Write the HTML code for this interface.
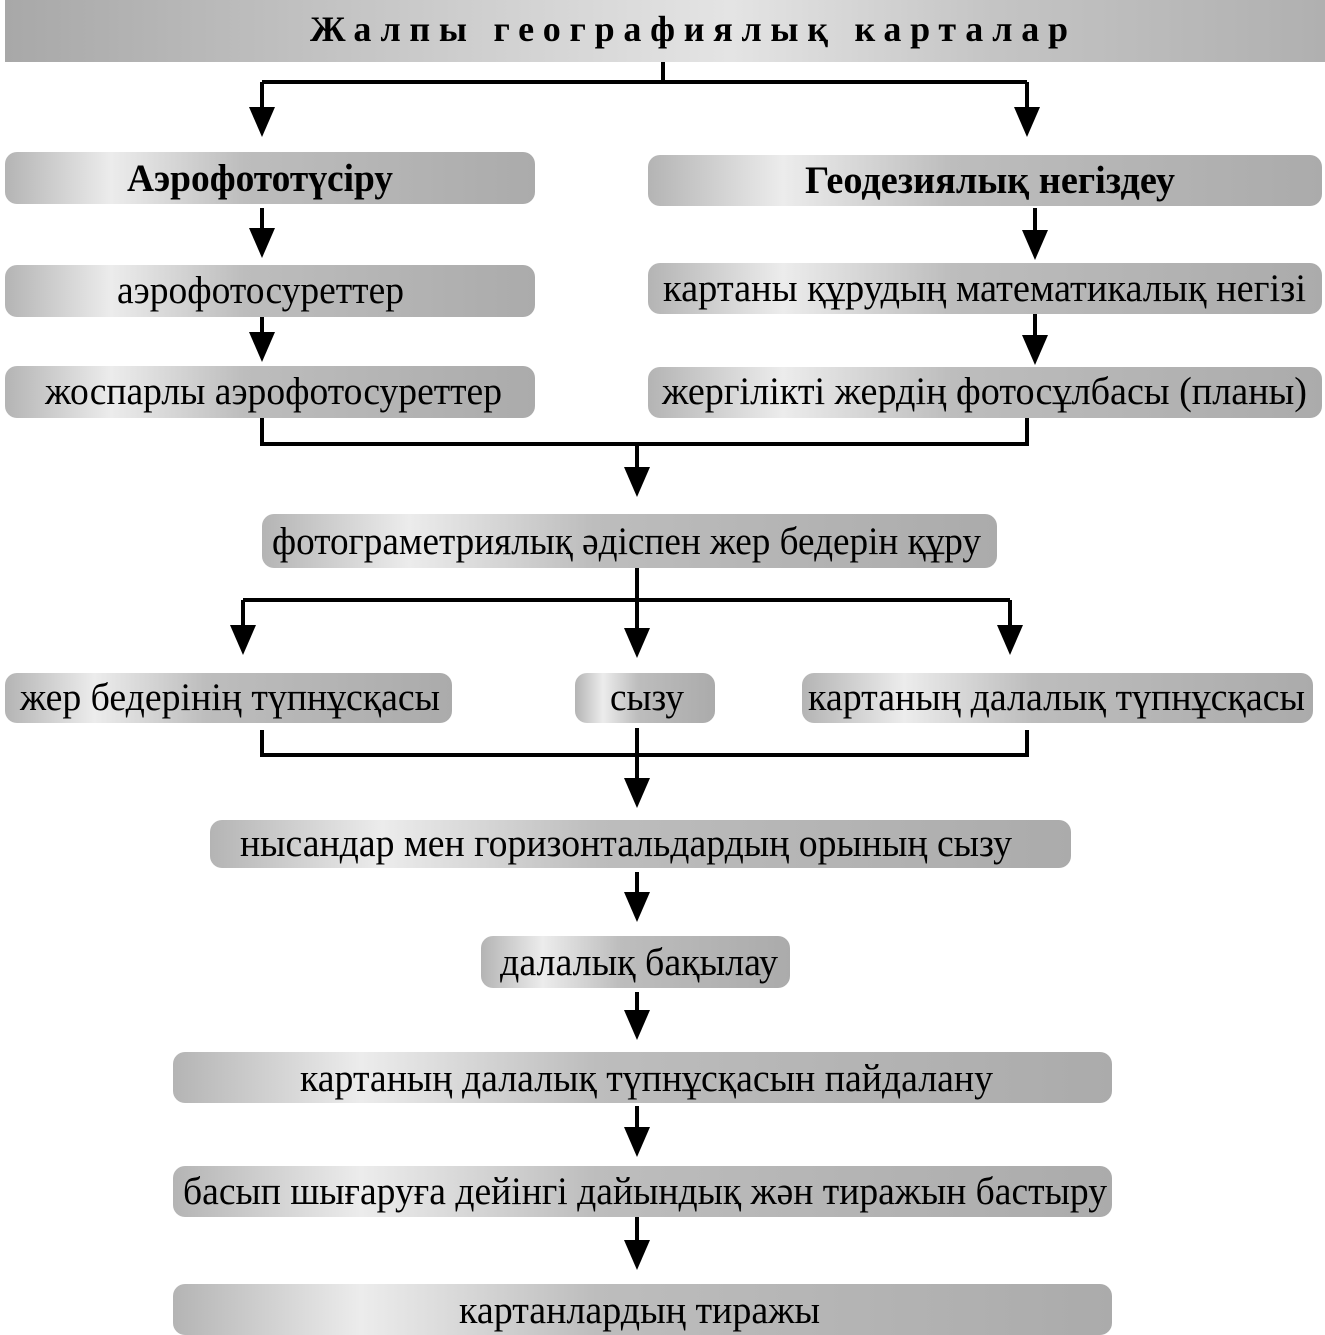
<!DOCTYPE html>
<html><head><meta charset="utf-8"><style>html,body{margin:0;padding:0;background:#fff}svg{display:block}</style></head>
<body>
<svg width="1325" height="1335" viewBox="0 0 1325 1335" xmlns="http://www.w3.org/2000/svg" font-family="Liberation Serif, serif">
<defs>
<linearGradient id="g" x1="0" y1="0" x2="1" y2="0">
<stop offset="0" stop-color="#b4b4b4"/>
<stop offset="0.2" stop-color="#ececec"/>
<stop offset="0.45" stop-color="#bdbdbd"/>
<stop offset="1" stop-color="#ababab"/>
</linearGradient>
<linearGradient id="gt" x1="0" y1="0" x2="1" y2="0">
<stop offset="0" stop-color="#a8a8a8"/>
<stop offset="0.55" stop-color="#e4e4e4"/>
<stop offset="0.75" stop-color="#c4c4c4"/>
<stop offset="1" stop-color="#b0b0b0"/>
</linearGradient>
</defs>
<rect x="5" y="0" width="1320" height="62" fill="url(#gt)"/>
<text x="310" y="41" font-size="36" font-weight="bold" textLength="758" lengthAdjust="spacing">Жалпы географиялық карталар</text>

<g stroke="#000" stroke-width="4" fill="none">
<polyline points="663,62 663,82"/>
<polyline points="262,82 1027,82"/>
<line x1="262" y1="82" x2="262" y2="107"/>
<line x1="1027" y1="82" x2="1027" y2="107"/>
<line x1="262" y1="208" x2="262" y2="230"/>
<line x1="1035" y1="208" x2="1035" y2="232"/>
<line x1="262" y1="317" x2="262" y2="334"/>
<line x1="1035" y1="314" x2="1035" y2="337"/>
<polyline points="262,418 262,444 1027,444 1027,418"/>
<line x1="637" y1="444" x2="637" y2="467"/>
<line x1="637" y1="568" x2="637" y2="600"/>
<line x1="243" y1="600" x2="1010" y2="600"/>
<line x1="243" y1="600" x2="243" y2="625"/>
<line x1="637" y1="600" x2="637" y2="628"/>
<line x1="1010" y1="600" x2="1010" y2="625"/>
<polyline points="262,730 262,755 1027,755 1027,730"/>
<line x1="637" y1="728" x2="637" y2="778"/>
<line x1="637" y1="872" x2="637" y2="892"/>
<line x1="637" y1="992" x2="637" y2="1010"/>
<line x1="637" y1="1106" x2="637" y2="1127"/>
<line x1="637" y1="1217" x2="637" y2="1240"/>
</g>
<g fill="#000">
<path d="M249,107 L275,107 L262,137 Z"/>
<path d="M1014,107 L1040,107 L1027,137 Z"/>
<path d="M249,228 L275,228 L262,258 Z"/>
<path d="M1022,230 L1048,230 L1035,260 Z"/>
<path d="M249,332 L275,332 L262,362 Z"/>
<path d="M1022,335 L1048,335 L1035,365 Z"/>
<path d="M624,467 L650,467 L637,497 Z"/>
<path d="M230,625 L256,625 L243,655 Z"/>
<path d="M624,628 L650,628 L637,658 Z"/>
<path d="M997,625 L1023,625 L1010,655 Z"/>
<path d="M624,778 L650,778 L637,808 Z"/>
<path d="M624,892 L650,892 L637,922 Z"/>
<path d="M624,1010 L650,1010 L637,1040 Z"/>
<path d="M624,1127 L650,1127 L637,1157 Z"/>
<path d="M624,1240 L650,1240 L637,1270 Z"/>
</g>

<g fill="url(#g)">
<rect x="5" y="152" width="530" height="52" rx="12"/>
<rect x="648" y="155" width="674" height="51" rx="12"/>
<rect x="5" y="265" width="530" height="52" rx="12"/>
<rect x="648" y="263" width="674" height="51" rx="12"/>
<rect x="5" y="366" width="530" height="52" rx="12"/>
<rect x="648" y="367" width="674" height="51" rx="12"/>
<rect x="262" y="514" width="735" height="54" rx="12"/>
<rect x="5" y="673" width="447" height="50" rx="12"/>
<rect x="575" y="673" width="140" height="50" rx="12"/>
<rect x="802" y="673" width="511" height="50" rx="12"/>
<rect x="210" y="820" width="861" height="48" rx="12"/>
<rect x="481" y="936" width="309" height="52" rx="12"/>
<rect x="173" y="1052" width="939" height="51" rx="12"/>
<rect x="173" y="1166" width="939" height="51" rx="12"/>
<rect x="173" y="1284" width="939" height="51" rx="12"/>
</g>
<g font-size="39" fill="#000">
<text x="127" y="191" font-weight="bold" textLength="266" lengthAdjust="spacingAndGlyphs">Аэрофототүсіру</text>
<text x="805" y="193" font-weight="bold" textLength="370" lengthAdjust="spacingAndGlyphs">Геодезиялық негіздеу</text>
<text x="117" y="303" textLength="287" lengthAdjust="spacingAndGlyphs">аэрофотосуреттер</text>
<text x="663" y="301" textLength="643" lengthAdjust="spacingAndGlyphs">картаны құрудың математикалық негізі</text>
<text x="45" y="404" textLength="457" lengthAdjust="spacingAndGlyphs">жоспарлы аэрофотосуреттер</text>
<text x="662" y="404" textLength="645" lengthAdjust="spacingAndGlyphs">жергілікті жердің фотосұлбасы (планы)</text>
<text x="272" y="554" textLength="709" lengthAdjust="spacingAndGlyphs">фотограметриялық әдіспен жер бедерін құру</text>
<text x="20" y="710" textLength="420" lengthAdjust="spacingAndGlyphs">жер бедерінің түпнұсқасы</text>
<text x="610" y="710" textLength="74" lengthAdjust="spacingAndGlyphs">сызу</text>
<text x="808" y="710" textLength="497" lengthAdjust="spacingAndGlyphs">картаның далалық түпнұсқасы</text>
<text x="240" y="856" textLength="772" lengthAdjust="spacingAndGlyphs">нысандар мен горизонтальдардың орының сызу</text>
<text x="500" y="975" textLength="278" lengthAdjust="spacingAndGlyphs">далалық бақылау</text>
<text x="300" y="1091" textLength="693" lengthAdjust="spacingAndGlyphs">картаның далалық түпнұсқасын пайдалану</text>
<text x="183" y="1204" textLength="924" lengthAdjust="spacingAndGlyphs">басып шығаруға дейінгі дайындық жән тиражын бастыру</text>
<text x="459" y="1323" textLength="361" lengthAdjust="spacingAndGlyphs">картанлардың тиражы</text>
</g>
</svg>
</body></html>
